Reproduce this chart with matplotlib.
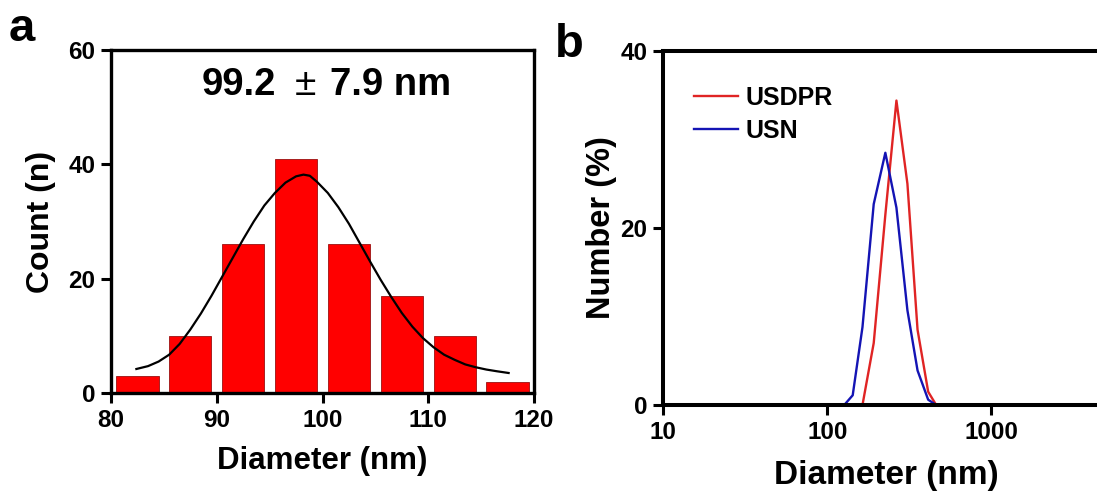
import numpy as np
import matplotlib
matplotlib.use("Agg")
import matplotlib.pyplot as plt
from matplotlib.ticker import NullLocator

plt.rcParams['font.family'] = ['Liberation Sans', 'DejaVu Sans']
plt.rcParams['font.weight'] = 'bold'

# panel a: size histogram
bin_centers = [82.5, 87.5, 92.5, 97.5, 102.5, 107.5, 112.5, 117.5]
counts = [3, 10, 26, 41, 26, 17, 10, 2]
# fitted curve
fit_x = [82.4, 83.5, 84.5, 85.5, 86.5, 87.5, 88.5, 89.5, 90.5, 91.5, 92.5,
         93.5, 94.5, 95.5, 96.5, 97.5, 98.2, 98.8, 99.5, 100.5, 101.5, 102.5,
         103.5, 104.5, 105.5, 106.5, 107.5, 108.5, 109.5, 110.5, 111.5, 112.5,
         113.5, 114.5, 115.5, 116.5, 117.6]
fit_y = [4.2, 4.7, 5.5, 6.7, 8.6, 11.1, 13.9, 17.0, 20.3, 23.6, 26.9,
         30.0, 32.8, 35.0, 36.8, 37.9, 38.2, 38.0, 36.9, 35.0, 32.5, 29.6,
         26.3, 23.0, 19.8, 16.8, 14.0, 11.6, 9.6, 8.0, 6.7, 5.8,
         5.0, 4.5, 4.1, 3.8, 3.5]
mean_txt, pm_txt, sd_txt = "99.2", "±", "7.9 nm"

# panel b: DLS number distribution
usdpr_d = [164, 192, 226, 264, 308, 355, 412, 461]
usdpr_n = [0.0, 7.0, 21.5, 34.4, 25.0, 8.5, 1.5, 0.0]
usn_d = [127, 143, 164, 192, 226, 264, 308, 355, 412, 461]
usn_n = [0.0, 1.1, 8.8, 22.7, 28.5, 22.3, 10.7, 3.9, 0.6, 0.0]

W, H = 1097, 497
fig = plt.figure(figsize=(W / 100, H / 100), dpi=100)

def box(l, t, r, b):
    return [l / W, 1 - b / H, (r - l) / W, (b - t) / H]

def px(x, y):
    return x / W, 1 - y / H

# ---- panel a
ax1 = fig.add_axes(box(111, 50, 534, 393))
ax1.bar(bin_centers, counts, width=4.0, color='#ff0000',
        edgecolor='#9a1010', linewidth=0.6, zorder=2)
ax1.plot(fit_x, fit_y, color='black', lw=1.6, zorder=3)
ax1.set_xlim(80, 120)
ax1.set_ylim(0, 60)
ax1.set_xticks([80, 90, 100, 110, 120])
ax1.set_yticks([0, 20, 40, 60])
ax1.set_xlabel('Diameter (nm)', fontsize=22.5, fontweight='bold')
ax1.set_ylabel('Count (n)', fontsize=23, fontweight='bold')
ax1.xaxis.set_label_coords(0.5, -0.154)
ax1.yaxis.set_label_coords(-0.131, 0.5)
for s in ax1.spines.values():
    s.set_linewidth(2.4)
ax1.tick_params(direction='out', length=7.2, width=2.2, labelsize=17.5, pad=4)

# mean +/- sd, the sign drawn thin as in the source
fig.text(*px(276, 95), mean_txt, ha='right', va='baseline', fontsize=27.5, fontweight='bold')
fig.text(*px(305, 95), pm_txt, ha='center', va='baseline', fontsize=28, fontweight='normal')
fig.text(*px(330, 95), sd_txt, ha='left', va='baseline', fontsize=27.5, fontweight='bold')

# ---- panel b (right edge runs past the figure, as in the source)
ax2 = fig.add_axes(box(663, 51, 663 + 3 * 164.2, 405))
ax2.plot(usdpr_d, usdpr_n, color='#e02424', lw=1.7, label='USDPR')
ax2.plot(usn_d, usn_n, color='#1414b4', lw=1.7, label='USN')
ax2.set_xscale('log')
ax2.set_xlim(10, 10000)
ax2.set_ylim(0, 40)
ax2.set_xticks([10, 100, 1000])
ax2.set_xticklabels(['10', '100', '1000'])
ax2.xaxis.set_minor_locator(NullLocator())
ax2.set_yticks([0, 20, 40])
ax2.set_xlabel('Diameter (nm)', fontsize=24, fontweight='bold')
ax2.set_ylabel('Number (%)', fontsize=23.5, fontweight='bold')
ax2.xaxis.set_label_coords(((774 + 998) / 2 - 663) / (3 * 164.2), -0.154)
ax2.yaxis.set_label_coords(-0.0934, 0.5)
for s in ax2.spines.values():
    s.set_linewidth(2.9)
ax2.tick_params(direction='out', length=7.2, width=2.2, labelsize=17.5, pad=4)
ax2.legend(loc='upper left', bbox_to_anchor=((694 - 663) / 492.6, (405 - 86) / 354),
           frameon=False, fontsize=18, handlelength=1.75, handletextpad=0.3,
           labelspacing=0.35, borderaxespad=0, borderpad=0)

fig.text(*px(9, 41), 'a', fontsize=34, fontweight='bold')
fig.text(*px(555, 57), 'b', fontsize=34, fontweight='bold')

fig.savefig('out.png', dpi=100)
